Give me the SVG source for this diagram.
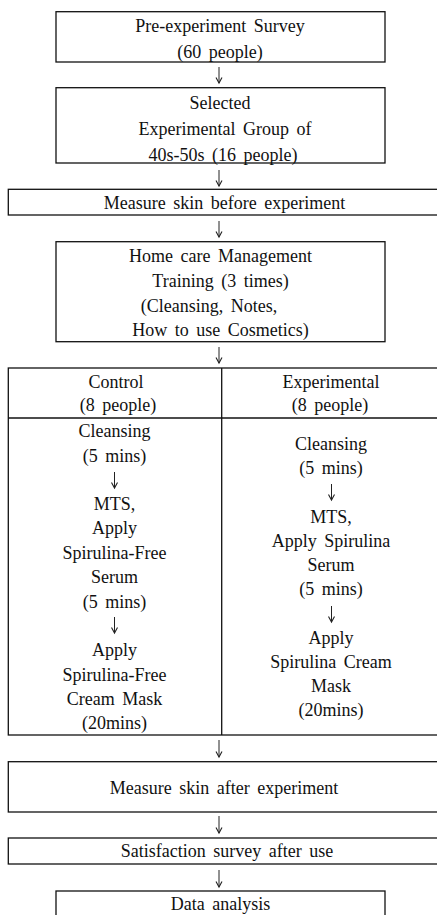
<svg xmlns="http://www.w3.org/2000/svg" width="437" height="915" viewBox="0 0 437 915">
<style>
.box{fill:#fff;stroke:#111;stroke-width:1.3}
.ln{stroke:#111;stroke-width:1.3;fill:none}
text{font-family:"Liberation Serif","Times New Roman",serif;font-size:18px;fill:#111;text-anchor:middle;word-spacing:3px}
.arr{stroke:#222;stroke-width:1;fill:none;marker-end:url(#ah)}
</style>
<defs>
<marker id="ah" markerUnits="userSpaceOnUse" markerWidth="8" markerHeight="8" viewBox="0 0 8 8" refX="6" refY="4" orient="auto">
<path d="M0.5,1 L6,4 L0.5,7" fill="none" stroke="#222" stroke-width="1.1"/>
</marker>
</defs>
<rect width="437" height="915" fill="#fff"/>
<g id="survey">
<rect class="box" x="56" y="11.7" width="329" height="50.3"/>
<text x="220" y="32">Pre-experiment Survey</text>
<text x="220" y="57.5">(60 people)</text>
</g>
<g id="selected">
<rect class="box" x="56" y="87.7" width="329" height="75.3"/>
<text x="220" y="108.5">Selected</text>
<text x="225" y="135">Experimental Group of</text>
<text x="223" y="161">40s-50s (16 people)</text>
</g>
<g id="measure-before">
<rect class="box" x="8.3" y="189.3" width="432" height="25.7"/>
<text x="224.5" y="209">Measure skin before experiment</text>
</g>
<g id="training">
<rect class="box" x="56" y="241.7" width="329" height="100"/>
<text x="220.5" y="262">Home care Management</text>
<text x="220.5" y="287">Training (3 times)</text>
<text x="209" y="312">(Cleansing, Notes,</text>
<text x="220.5" y="336">How to use Cosmetics)</text>
</g>
<g id="groups-table">
<rect class="box" x="8.3" y="368" width="432" height="367"/>
<line class="ln" x1="8.3" y1="418" x2="440" y2="418"/>
<line class="ln" x1="221.7" y1="368" x2="221.7" y2="735"/>
<g id="control">
<text x="116" y="387.5">Control</text>
<text x="118" y="411">(8 people)</text>
<text x="114.5" y="437">Cleansing</text>
<text x="114.5" y="461.5">(5 mins)</text>
<text x="114.5" y="510">MTS,</text>
<text x="114.5" y="534">Apply</text>
<text x="114.5" y="559">Spirulina-Free</text>
<text x="114.5" y="583">Serum</text>
<text x="114.5" y="608">(5 mins)</text>
<text x="114.5" y="656">Apply</text>
<text x="114.5" y="681">Spirulina-Free</text>
<text x="114.5" y="705">Cream Mask</text>
<text x="114.5" y="729">(20mins)</text>
</g>
<g id="experimental">
<text x="331" y="387.5">Experimental</text>
<text x="330" y="411">(8 people)</text>
<text x="331" y="450">Cleansing</text>
<text x="331" y="474">(5 mins)</text>
<text x="331" y="522.5">MTS,</text>
<text x="331" y="547">Apply Spirulina</text>
<text x="331" y="571">Serum</text>
<text x="331" y="595">(5 mins)</text>
<text x="331" y="643.5">Apply</text>
<text x="331" y="668">Spirulina Cream</text>
<text x="331" y="692">Mask</text>
<text x="331" y="716">(20mins)</text>
</g>
</g>
<g id="measure-after">
<rect class="box" x="8.3" y="761.7" width="432" height="50.3"/>
<text x="224" y="794">Measure skin after experiment</text>
</g>
<g id="satisfaction">
<rect class="box" x="8.3" y="838" width="432" height="26"/>
<text x="227" y="857">Satisfaction survey after use</text>
</g>
<g id="analysis">
<rect class="box" x="56" y="891" width="329" height="40"/>
<text x="220.5" y="910">Data analysis</text>
</g>
<g id="connectors">
<line class="arr" x1="219" y1="67" x2="219" y2="83"/>
<line class="arr" x1="219" y1="170" x2="219" y2="186"/>
<line class="arr" x1="219" y1="221" x2="219" y2="237"/>
<line class="arr" x1="219" y1="347" x2="219" y2="363"/>
<line class="arr" x1="219" y1="740" x2="219" y2="757"/>
<line class="arr" x1="219" y1="816" x2="219" y2="833"/>
<line class="arr" x1="219" y1="870" x2="219" y2="887"/>
<line class="arr" x1="114.5" y1="472" x2="114.5" y2="488"/>
<line class="arr" x1="114.5" y1="617" x2="114.5" y2="633"/>
<line class="arr" x1="331.5" y1="484" x2="331.5" y2="500"/>
<line class="arr" x1="331.5" y1="606" x2="331.5" y2="622"/>
</g>
</svg>
